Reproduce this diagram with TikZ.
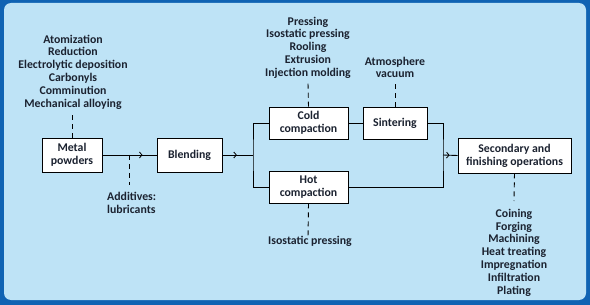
\documentclass[tikz,border=0pt]{standalone}
\usepackage{fontspec}
\setmainfont{Carlito}
\usetikzlibrary{arrows.meta,decorations.markings}
\definecolor{frameblue}{HTML}{1063B3}
\definecolor{paleblue}{HTML}{BEE3F6}
\definecolor{inkc}{HTML}{1B2230}
\tikzset{
  box/.style={draw=black, fill=white, line width=0.9pt, align=center, inner sep=1pt, font=\bfseries\fontsize{11.8}{12.8}\selectfont, text=inkc},
  lbl/.style={align=center, inner sep=0pt, font=\bfseries\fontsize{11.8}{12.8}\selectfont, text=inkc},
  conn/.style={line width=0.9pt, draw=black},
  dsh/.style={line width=0.9pt, draw=black, dash pattern=on 5pt off 4pt},
  chev/.style={postaction={decorate}, decoration={markings, mark=at position #1 with {\arrow{Straight Barb[length=2.5pt,width=6pt,line width=0.8pt]}}}}
}
\begin{document}
\begin{tikzpicture}[x=1pt,y=-1pt]
\fill[frameblue] (0,0) rectangle (590,305);
\fill[paleblue, rounded corners=7pt] (4,3) rectangle (586,300);
\useasboundingbox (0,0) rectangle (590,305);

\node[box, minimum width=60pt, minimum height=34pt] (mp) at (72,155) {Metal\\powders};
\node[box, minimum width=65pt, minimum height=34pt] (bl) at (189.5,155) {Blending};
\node[box, minimum width=79pt, minimum height=32pt] (cold) at (308.5,123) {Cold\\compaction};
\node[box, minimum width=64pt, minimum height=32pt] (sint) at (395,123) {Sintering};
\node[box, minimum width=79pt, minimum height=32pt] (hot) at (308.5,187) {Hot\\compaction};
\node[box, minimum width=113pt, minimum height=35pt] (sec) at (514.5,155.5) {Secondary and\\finishing operations};

\node[lbl] (mplist) at (73,72) {Atomization\\Reduction\\Electrolytic deposition\\Carbonyls\\Comminution\\Mechanical alloying};
\node[lbl] (coldlist) at (308,47.5) {Pressing\\Isostatic pressing\\Rooling\\Extrusion\\Injection molding};
\node[lbl] (sintlist) at (395,67.5) {Atmosphere\\vacuum};
\node[lbl, align=left, anchor=west] (add) at (107,202.5) {Additives:\\lubricants};
\node[lbl] (hotlist) at (310,241) {Isostatic pressing};
\node[lbl] (seclist) at (514,252.5) {Coining\\Forging\\Machining\\Heat treating\\Impregnation\\Infiltration\\Plating};

\coordinate (fork) at (253,155);
\coordinate (join) at (443,155);
\coordinate (addtop) at (129,155);
\coordinate (addend) at (129,185);
\coordinate (mpd) at (72,111);
\coordinate (coldd) at (308,83);
\coordinate (sintd) at (395,83);
\coordinate (hotd) at (308,238);
\coordinate (secd) at (514,201);

\draw[conn, chev=0.74] (mp.east) -- (bl.west);
\draw[conn, chev=0.47] (bl.east) -- (fork);
\draw[conn] (cold.west) -| (fork) |- (hot.west);
\draw[conn] (cold.east) -- (sint.west);
\draw[conn] (sint.east) -| (join) |- (hot.east);
\draw[conn, chev=0.45] (join) -- (sec.west);

\draw[dsh] (addtop) -- (addend);
\draw[dsh] (mp.north) -- (mpd);
\draw[dsh] (cold.north) -- (coldd);
\draw[dsh] (sint.north) -- (sintd);
\draw[dsh] (hot.south) -- (hotd);
\draw[dsh] (sec.south) -- (secd);
\end{tikzpicture}
\end{document}
